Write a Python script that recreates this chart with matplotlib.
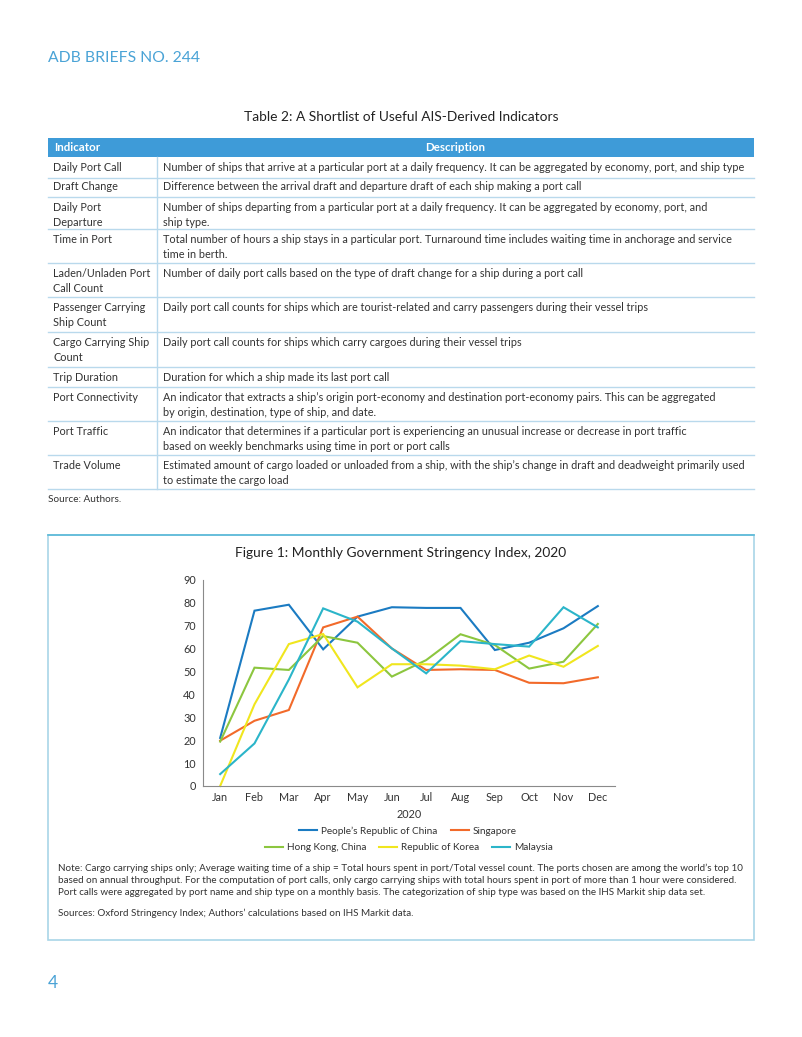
import matplotlib
matplotlib.use("Agg")
import matplotlib.pyplot as plt
from matplotlib.patches import Rectangle
from matplotlib.lines import Line2D

plt.rcParams['font.family'] = ['Lato', 'DejaVu Sans']

# ---------------- data ----------------
months = ["Jan", "Feb", "Mar", "Apr", "May", "Jun", "Jul", "Aug", "Sep", "Oct", "Nov", "Dec"]
prc = [21, 76.6, 79.2, 59.7, 74.0, 78.1, 77.8, 77.8, 59.4, 62.6, 68.9, 78.6]
singapore = [19.8, 28.5, 33.2, 69.3, 74.0, 60.1, 50.7, 51.0, 50.7, 45.1, 44.9, 47.5]
hong_kong = [19.4, 51.7, 50.7, 65.5, 62.6, 47.8, 55.0, 66.3, 61.6, 51.3, 54.3, 70.8]
korea = [0, 35.7, 62.0, 66.4, 43.1, 53.2, 53.2, 52.6, 51.0, 57.0, 52.1, 61.2]
malaysia = [5.2, 18.6, 46.5, 77.6, 71.8, 60.1, 49.2, 63.3, 62.0, 60.9, 78.1, 69.3]
series_names = ["People\u2019s Republic of China", "Singapore", "Hong Kong, China",
                "Republic of Korea", "Malaysia"]
y_ticks = [0, 10, 20, 30, 40, 50, 60, 70, 80, 90]

table_indicators = [
    "Daily Port Call", "Draft Change", "Daily Port\nDeparture", "Time in Port",
    "Laden/Unladen Port\nCall Count", "Passenger Carrying\nShip Count",
    "Cargo Carrying Ship\nCount", "Trip Duration", "Port Connectivity",
    "Port Traffic", "Trade Volume",
]
table_descriptions = [
    "Number of ships that arrive at a particular port at a daily frequency. It can be aggregated by economy, port, and ship type",
    "Difference between the arrival draft and departure draft of each ship making a port call",
    "Number of ships departing from a particular port at a daily frequency. It can be aggregated by economy, port, and\nship type.",
    "Total number of hours a ship stays in a particular port. Turnaround time includes waiting time in anchorage and service\ntime in berth.",
    "Number of daily port calls based on the type of draft change for a ship during a port call",
    "Daily port call counts for ships which are tourist-related and carry passengers during their vessel trips",
    "Daily port call counts for ships which carry cargoes during their vessel trips",
    "Duration for which a ship made its last port call",
    "An indicator that extracts a ship\u2019s origin port-economy and destination port-economy pairs. This can be aggregated\nby origin, destination, type of ship, and date.",
    "An indicator that determines if a particular port is experiencing an unusual increase or decrease in port traffic\nbased on weekly benchmarks using time in port or port calls",
    "Estimated amount of cargo loaded or unloaded from a ship, with the ship\u2019s change in draft and deadweight primarily used\nto estimate the cargo load",
]

# ---------------- styling ----------------
W, H = 802, 1037
colors = ["#1b7bc2", "#f26a2a", "#8cc63f", "#f0e61e", "#2bb5c9"]
blue_title = "#4aa3d6"
header_blue = "#3e9bd8"
grid_blue = "#b9d9ec"
text_col = "#333333"
body_fs = 7.85

fig = plt.figure(figsize=(W / 100, H / 100), dpi=100)
bg = fig.add_axes([0, 0, 1, 1])
bg.set_xlim(0, W)
bg.set_ylim(H, 0)
bg.axis("off")

# page header
bg.text(48, 58, "ADB BRIEFS NO. 244", color=blue_title, fontsize=11.3,
        va="center", ha="left")
bg.text(48, 983, "4", color=blue_title, fontsize=12.5, va="center", ha="left")

# table title
bg.text(401, 117, "Table 2: A Shortlist of Useful AIS-Derived Indicators", color="#222222",
        fontsize=9.9, ha="center", va="center")

# table
tx0, tx1, tcol = 48, 754, 157
bg.add_patch(Rectangle((tx0, 138), tx1 - tx0, 19, facecolor=header_blue, edgecolor="none"))
bg.text(tx0 + 6, 147.5, "Indicator", color="white", fontsize=8.3, fontweight="bold",
        va="center", ha="left")
bg.text((tcol + tx1) / 2, 147.5, "Description", color="white", fontsize=8.3, fontweight="bold",
        va="center", ha="center")
row_bounds = [157, 178, 197, 229, 263, 297, 332, 367, 387, 421, 455, 489]
for i, (ind, desc) in enumerate(zip(table_indicators, table_descriptions)):
    top, bot = row_bounds[i], row_bounds[i + 1]
    bg.plot([tx0, tx1], [bot, bot], color=grid_blue, lw=1.0)
    yt = top + (3.5 if i == 1 else 5)
    bg.text(tx0 + 5, yt, ind, color=text_col, fontsize=body_fs, va="top", ha="left",
            linespacing=1.45)
    bg.text(tcol + 6, yt, desc, color=text_col, fontsize=body_fs, va="top", ha="left",
            linespacing=1.45)
bg.plot([tcol, tcol], [157, 489], color=grid_blue, lw=1.0)
bg.text(48, 500, "Source: Authors.", color=text_col, fontsize=7.2, va="center", ha="left")

# chart box
bg.add_patch(Rectangle((48, 535), 706, 405, facecolor="white", edgecolor="#a9d6e8", lw=1.2))
bg.plot([48, 754], [535, 535], color="#5bbad8", lw=1.2)

bg.text(401, 553, "Figure 1: Monthly Government Stringency Index, 2020", color="#222222",
        fontsize=9.9, ha="center", va="center")

# chart axes
ax_l, ax_r, ax_t, ax_b = 203, 615, 580, 786
ax = fig.add_axes([ax_l / W, 1 - ax_b / H, (ax_r - ax_l) / W, (ax_b - ax_t) / H])
ax.patch.set_alpha(0)
x = list(range(len(months)))
for vals, c, name in zip([prc, singapore, hong_kong, korea, malaysia], colors, series_names):
    ax.plot(x, vals, color=c, lw=1.5, label=name, solid_joinstyle="miter", clip_on=False)
ax.set_xlim(-0.5, 11.5)
ax.set_ylim(0, 90)
ax.set_xticks(x)
ax.set_xticklabels(months)
ax.set_yticks(y_ticks)
for s in ["top", "right"]:
    ax.spines[s].set_visible(False)
for s in ["left", "bottom"]:
    ax.spines[s].set_color("#8a8a8a")
    ax.spines[s].set_linewidth(0.8)
ax.tick_params(axis="both", length=0, labelsize=7.8, labelcolor=text_col)
ax.tick_params(axis="y", pad=5)
ax.tick_params(axis="x", pad=4)
ax.set_xlabel("2020", fontsize=7.8, color=text_col, labelpad=5)

# legend (two rows)
handles = [Line2D([0], [0], color=c, lw=1.5) for c in colors]
leg_kw = dict(loc="center", frameon=False, fontsize=7.2, handlelength=1.8,
              handletextpad=0.4, columnspacing=1.3, borderpad=0)
leg1 = fig.legend(handles[:2], series_names[:2], ncol=2,
                  bbox_to_anchor=(408 / W, 1 - 831 / H), **leg_kw)
leg2 = fig.legend(handles[2:], series_names[2:], ncol=3,
                  bbox_to_anchor=(409 / W, 1 - 848 / H), **leg_kw)
for leg in (leg1, leg2):
    for t in leg.get_texts():
        t.set_color(text_col)

# notes
note = ("Note: Cargo carrying ships only; Average waiting time of a ship = Total hours spent in port/Total vessel count. "
        "The ports chosen are among the world\u2019s top 10\n"
        "based on annual throughput. For the computation of port calls, only cargo carrying ships with total hours "
        "spent in port of more than 1 hour were considered.\n"
        "Port calls were aggregated by port name and ship type on a monthly basis. The categorization of ship type "
        "was based on the IHS Markit ship data set.")
bg.text(58, 864, note, color=text_col, fontsize=7.15, va="top", ha="left", linespacing=1.4)
bg.text(58, 913, "Sources: Oxford Stringency Index; Authors\u2019 calculations based on IHS Markit data.",
        color=text_col, fontsize=7.15, va="center", ha="left")

fig.savefig("out.png", dpi=100, facecolor="white")
